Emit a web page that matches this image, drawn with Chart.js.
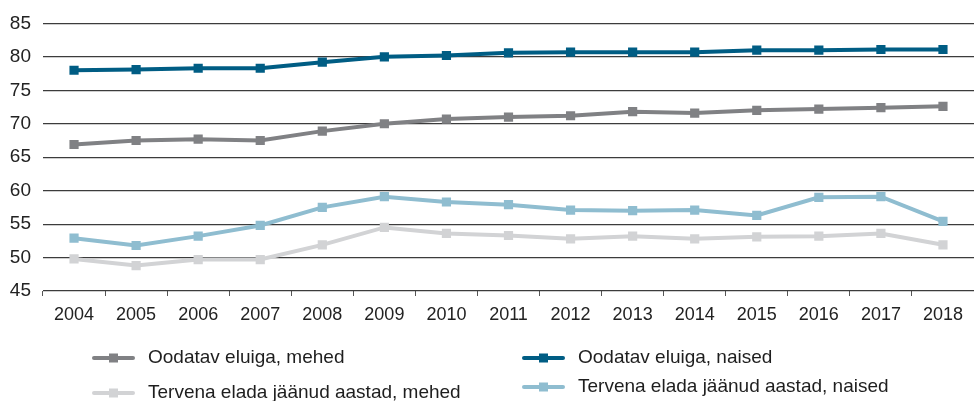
<!DOCTYPE html>
<html>
<head>
<meta charset="utf-8">
<script src="https://cdn.jsdelivr.net/npm/chart.js@4/dist/chart.umd.min.js"></script>
<style>
  html, body { margin: 0; padding: 0; background: #ffffff; }
  #wrap { position: relative; width: 974px; height: 401px; }
</style>
</head>
<body>
<div id="wrap"><canvas id="chart" width="974" height="401"></canvas></div>
<script>
// Years on the horizontal axis
const years = ['2004','2005','2006','2007','2008','2009','2010','2011','2012','2013','2014','2015','2016','2017','2018'];

// Life expectancy at birth, men / women
const lifeMen   = [66.9, 67.5, 67.7, 67.5, 68.9, 70.0, 70.7, 71.0, 71.2, 71.8, 71.6, 72.0, 72.2, 72.4, 72.6];
const lifeWomen = [78.0, 78.1, 78.3, 78.3, 79.2, 80.0, 80.2, 80.6, 80.7, 80.7, 80.7, 81.0, 81.0, 81.1, 81.1];

// Healthy life years, men / women
const healthyMen   = [49.8, 48.8, 49.7, 49.7, 51.9, 54.5, 53.6, 53.3, 52.8, 53.2, 52.8, 53.1, 53.2, 53.6, 51.9];
const healthyWomen = [52.9, 51.8, 53.2, 54.8, 57.5, 59.1, 58.3, 57.9, 57.1, 57.0, 57.1, 56.3, 59.0, 59.1, 55.4];

// Value axis range and step
const yMin = 45, yMax = 85, yStep = 5;

const seriesLabels = [
  'Oodatav eluiga, mehed',
  'Oodatav eluiga, naised',
  'Tervena elada jäänud aastad, mehed',
  'Tervena elada jäänud aastad, naised'
];
const seriesColors = ['#808184', '#005d84', '#d2d3d5', '#8fbdd0'];
const seriesData = [lifeMen, lifeWomen, healthyMen, healthyWomen];

// Legend slots (two columns, two rows)
const legendSlots = [
  { x: 92,  y: 358 },
  { x: 522, y: 358 },
  { x: 92,  y: 393 },
  { x: 522, y: 387 }
];

const FONT = '"Liberation Sans", Arial, sans-serif';

const legendPlugin = {
  id: 'gridLegend',
  afterDraw(chart) {
    const ctx = chart.ctx;
    ctx.save();
    chart.data.datasets.forEach((ds, i) => {
      const s = legendSlots[i];
      ctx.strokeStyle = ds.borderColor;
      ctx.lineWidth = 4;
      ctx.lineCap = 'round';
      ctx.beginPath();
      ctx.moveTo(s.x + 2, s.y);
      ctx.lineTo(s.x + 41, s.y);
      ctx.stroke();
      ctx.fillStyle = ds.borderColor;
      ctx.fillRect(s.x + 17, s.y - 4.5, 9, 9);
      ctx.fillStyle = '#1e1e1e';
      ctx.font = '19px ' + FONT;
      ctx.textBaseline = 'middle';
      ctx.textAlign = 'left';
      ctx.fillText(ds.label, s.x + 56, s.y);
    });
    ctx.restore();
  }
};

new Chart(document.getElementById('chart'), {
  type: 'line',
  data: {
    labels: years,
    datasets: seriesData.map((d, i) => ({
      label: seriesLabels[i],
      data: d,
      borderColor: seriesColors[i],
      backgroundColor: seriesColors[i],
      borderWidth: 4,
      pointStyle: 'rect',
      pointRadius: 6.5,
      pointBorderWidth: 0,
      pointHoverRadius: 6.5,
      tension: 0,
      fill: false
    }))
  },
  options: {
    responsive: false,
    animation: false,
    devicePixelRatio: 1,
    layout: {
      autoPadding: false,
      padding: { top: 19, right: 0, bottom: 70, left: 0 }
    },
    plugins: {
      legend: { display: false },
      tooltip: { enabled: false }
    },
    scales: {
      x: {
        offset: true,
        grid: {
          offset: true,
          drawOnChartArea: false,
          drawTicks: true,
          tickLength: 5,
          color: '#555555',
          lineWidth: 1
        },
        border: { display: false },
        ticks: {
          color: '#222222',
          font: { family: FONT, size: 18 },
          padding: 8,
          maxRotation: 0,
          autoSkip: false
        },
        afterFit(scale) {
          scale.height = 40;
          scale.paddingLeft = 0;
          scale.paddingRight = 0;
        }
      },
      y: {
        min: yMin,
        max: yMax,
        grid: {
          drawTicks: false,
          color: '#3c3c3c',
          lineWidth: 1.2
        },
        border: { display: false },
        ticks: {
          stepSize: yStep,
          color: '#222222',
          font: { family: FONT, size: 19 },
          padding: 12
        },
        afterFit(scale) { scale.width = 43; }
      }
    }
  },
  plugins: [legendPlugin]
});
</script>
</body>
</html>
